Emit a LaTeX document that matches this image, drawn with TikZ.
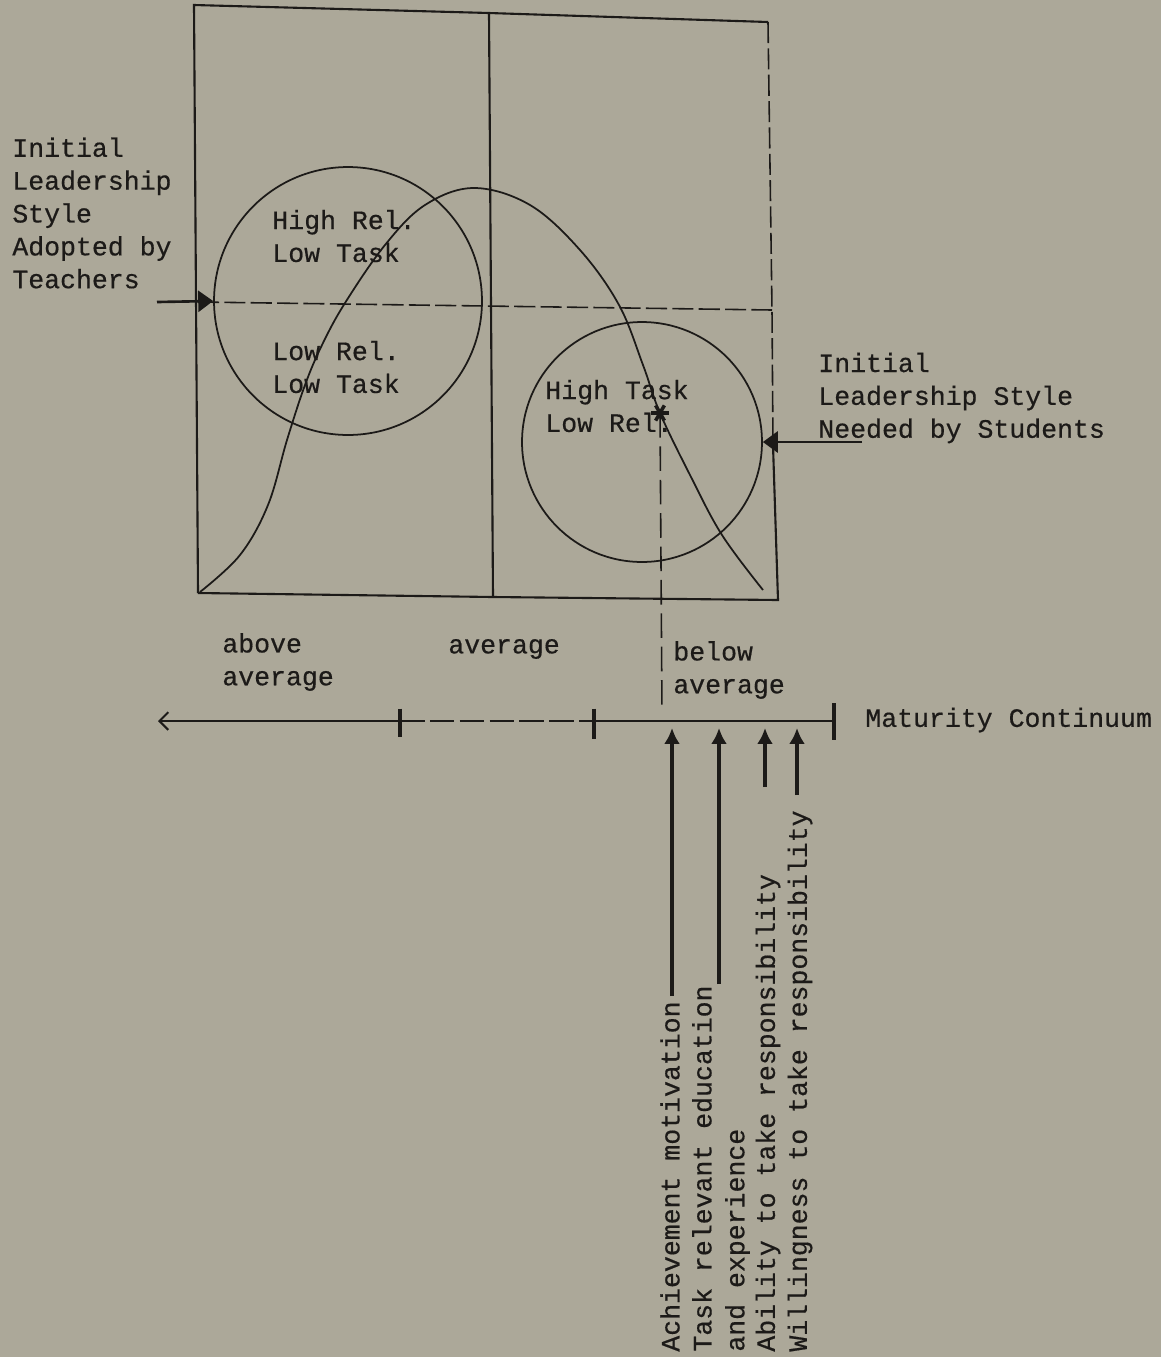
\documentclass[tikz,border=0pt]{standalone}
\usepackage{fontspec}
\newfontfamily\typer[FakeBold=0.5]{Liberation Mono}
\usetikzlibrary{arrows.meta,positioning}
\definecolor{paper}{RGB}{172,168,153}
\definecolor{ink}{RGB}{28,26,24}
\tikzset{
  txt/.style={font=\typer\fontsize{15.1}{18.7}\selectfont, text=ink, inner sep=0pt, align=left},
  frame/.style={draw=ink, line width=1.2pt},
  guide/.style={draw=ink, line width=0.9pt, dash pattern=on 12pt off 3pt},
  ring/.style={circle, draw=ink, line width=1pt, inner sep=0pt},
  curve/.style={draw=ink, line width=1pt},
  pointer/.style={draw=ink, line width=1.5pt, -{Triangle[length=8.5pt,width=12pt]}},
  factor/.style={draw=ink, line width=2.6pt, -{Latex[length=9pt,width=9pt]}},
  tickbar/.style={draw=ink, line width=2.8pt},
}
\begin{document}
\begin{tikzpicture}[x=0.02cm, y=-0.02cm]
\fill[paper] (0,0) rectangle (1161,1357);
\useasboundingbox (0,0) rectangle (1161,1357);

% the grid
\coordinate (tl) at (194,5);
\coordinate (tm) at (489,13);
\coordinate (tr) at (768,22);
\coordinate (bl) at (198,593);
\coordinate (bm) at (493,597);
\coordinate (br) at (778,600);
\coordinate (ml) at (198,302);
\coordinate (mr) at (772,310);
\coordinate (rk) at (773,445);
\draw[frame] (bl) -- (tl) -- (tm) -- (tr);
\draw[frame] (tm) -- (bm);
\draw[frame] (bl) -- (bm) -- (br) -- (rk);
\draw[guide] (tr) -- (mr) -- (rk);
\draw[guide] (ml) -- (mr);

% styles
\node[ring, minimum size=5.36cm] (lc) at (348,301) {};
\node[ring, minimum size=4.8cm] (rc) at (642,442) {};
\node[txt, anchor=west] (hrlt) at (272,236) {High Rel.\\Low Task};
\node[txt, anchor=west] (lrlt) at (272,367) {Low Rel.\\Low Task};
\node[txt, anchor=west] (htlr) at (545,406) {High Task\\Low Rel.};

% the curve
\draw[curve] plot[smooth, tension=0.6] coordinates {(200,592) (240,555) (268,505) (287,440)
  (305,385) (322,345) (345,303) (385,245) (425,205) (474,188) (530,205) (580,250)
  (619,305) (643,365) (660,413) (690,475) (722,535) (763,590)};

\coordinate (star) at (660,413);
\foreach \a in {0,60,120}
  \draw[ink, line width=2pt] ([shift={(\a:5pt)}]star) -- ([shift={(\a+180:5pt)}]star);
\coordinate (drop) at (662,713);
\draw[ink, line width=0.9pt, dash pattern=on 14pt off 5pt] (star) -- (drop);

% side labels
\node[txt, anchor=west] (teach) at (12,213) {Initial\\Leadership\\Style\\Adopted by\\Teachers};
\coordinate (tfoot) at (157,302);
\draw[pointer] (tfoot) -- (lc.west);
\node[txt, anchor=west] (needed) at (818,398) {Initial\\Leadership Style\\Needed by Students};
\coordinate (sfoot) at (862,442);
\draw[pointer] (sfoot) -- (rc.east);

% maturity continuum
\node[txt, anchor=west] (above) at (222,662) {above\\average};
\node[txt, anchor=west] (avg) at (448,649) {average};
\node[txt, anchor=west] (below) at (673,670) {below\\average};
\node[txt, anchor=west] (mat) at (865,720) {Maturity Continuum};
\coordinate (ax0) at (158,721);
\coordinate (t1) at (400,721);
\coordinate (t2) at (594,721);
\coordinate (t3) at (834,721);
\draw[ink, line width=1.2pt, {Straight Barb[length=5pt,width=10pt]}-] (ax0) -- (t1);
\draw[ink, line width=1pt, dash pattern=on 14pt off 3pt] (t1) -- (t2);
\draw[ink, line width=1.3pt] (t2) -- (t3);
\draw[tickbar] ([yshift=7pt]t1) -- ([yshift=-9pt]t1);
\draw[tickbar] ([yshift=7pt]t2) -- ([yshift=-10pt]t2);
\draw[tickbar] ([yshift=10pt]t3) -- ([yshift=-11pt]t3);

% factors
\coordinate (tipline) at (0,728);
\node[txt, rotate=90, anchor=west] (achv) at (670,1352) {Achievement motivation};
\node[txt, rotate=90, anchor=west] (educ) at (721,1352) {Task relevant education\\and experience};
\node[txt, rotate=90, anchor=west] (abil) at (768,1352) {Ability to take responsibility};
\node[txt, rotate=90, anchor=west] (will) at (800,1352) {Willingness to take responsibility};
\coordinate (f1) at (672,996);
\coordinate (f2) at (719,984);
\coordinate (f3) at (765,787);
\coordinate (f4) at (797,795);
\foreach \f in {f1,f2,f3,f4}
  \draw[factor] (\f) -- (\f |- tipline);
\end{tikzpicture}
\end{document}
